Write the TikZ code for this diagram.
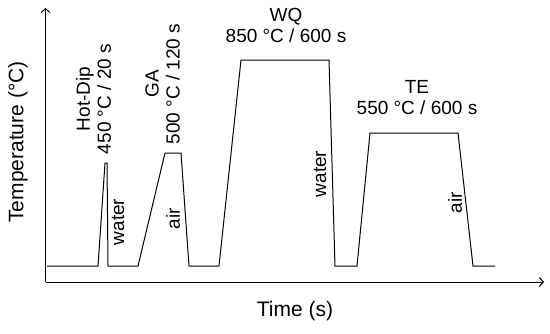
\documentclass[tikz,border=0pt]{standalone}
\usepackage{fontspec}
\setmainfont{Liberation Sans}
\usetikzlibrary{arrows.meta}

\begin{document}
\begin{tikzpicture}[
  x=1pt,y=-1pt,
  font=\fontsize{19}{21}\selectfont,
  axis/.style={line width=1pt,-{Straight Barb[length=4pt,width=9pt]}},
  curve/.style={line width=1pt,line join=miter},
  lab/.style={inner sep=0pt,align=center},
  vlab/.style={inner sep=0pt,align=center,rotate=90},
  axlab/.style={inner sep=0pt,font=\fontsize{21}{24}\selectfont}]
\useasboundingbox (0,0) rectangle (550,333);
% axes
\coordinate (O)    at (45.5,282);
\coordinate (ytip) at (45.5,8);
\coordinate (xtip) at (544,282);
\draw[axis] (O) -- (ytip);
\draw[axis] (O) -- (xtip);
\node[axlab,rotate=90] (ylab) at (18,142) {Temperature (°C)};
\node[axlab] (xlab) at (295,311) {Time (s)};
% temperature-time path
\draw[curve] (47,266) -- (98,266) -- (105,163) -- (107,163) -- (108,266)
  -- (138,266) -- (165,153) -- (181,153) -- (189,266)
  -- (219,266) -- (241,60) -- (329,60) -- (335,266)
  -- (357,266) -- (370,133) -- (458,133) -- (473,266) -- (495,266);
% stage labels
\node[vlab] (hotdip) at (93.5,99) {Hot-Dip\\450 °C / 20 s};
\node[vlab] (ga)     at (162.5,84) {GA\\500 °C / 120 s};
\node[lab]  (wq)     at (286,25) {WQ\\850 °C / 600 s};
\node[lab]  (te)     at (417,98) {TE\\550 °C / 600 s};
% cooling labels
\node[vlab] (water1) at (118,222) {water};
\node[vlab] (air1)   at (173,219) {air};
\node[vlab] (water2) at (320,174) {water};
\node[vlab] (air2)   at (455,203) {air};
\end{tikzpicture}
\end{document}
